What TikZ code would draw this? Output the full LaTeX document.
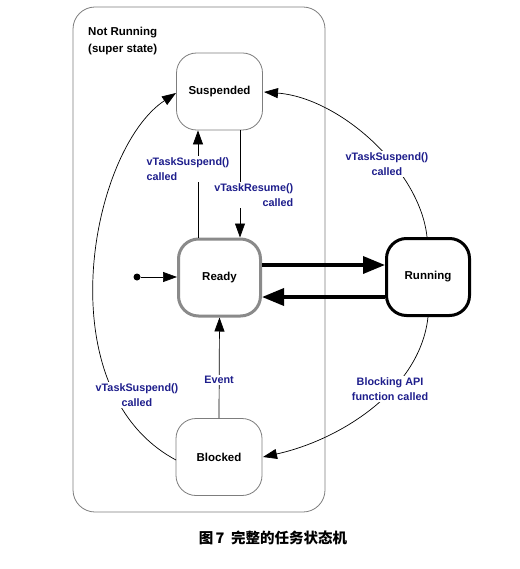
\documentclass[tikz,border=0pt]{standalone}
\usepackage{fontspec}
\setmainfont{Liberation Sans}
\newfontfamily\cjk{Noto Sans CJK SC}
\usetikzlibrary{arrows.meta}
\definecolor{lblue}{RGB}{30,30,140}
\definecolor{boxgray}{RGB}{125,125,125}
\tikzset{
  statebox/.style={draw=boxgray, line width=0.8pt, rounded corners=20pt, fill=white,
    minimum width=86pt, minimum height=77pt, inner sep=0pt,
    font=\fontsize{11.5}{13}\selectfont\bfseries},
  readybox/.style={statebox, draw=boxgray!90, line width=3pt, minimum width=82pt, minimum height=77pt},
  runbox/.style={statebox, draw=black, line width=3pt, minimum width=83pt, minimum height=77pt},
  lbl/.style={fill=white, text=lblue, inner sep=1.5pt, font=\fontsize{10.8}{15.5}\selectfont\bfseries},
  conn/.style={draw=black, line width=0.7pt, -{Triangle[length=14pt, width=10pt]}},
  thickconn/.style={draw=black, line width=3.5pt, -{Triangle[length=22pt, width=17pt]}},
}
\begin{document}
\begin{tikzpicture}[x=1pt, y=-1pt]
\useasboundingbox (0,0) rectangle (519,569);
% super state
\node[draw=boxgray, line width=0.8pt, rounded corners=22pt, minimum width=252pt, minimum height=505pt, inner sep=0pt] (super) at (199,259.5) {};
\node[anchor=north west, align=left, inner sep=0pt, font=\fontsize{11.5}{17}\selectfont\bfseries] (suptxt) at (88,27) {Not Running\\(super state)};
% thick arrows (under boxes)
\coordinate (rr1) at (262,265);
\coordinate (rr2) at (385,265);
\coordinate (rb1) at (385,297);
\coordinate (rb2) at (262,297);
% states
\node[statebox] (susp) at (219.5,91.5) {Suspended};
\node[readybox] (ready) at (219.5,277.5) {Ready};
\node[runbox] (run) at (428,277) {Running};
\node[statebox] (blk) at (219,457) {Blocked};
\draw[thickconn] (ready.east |- rr1) -- (run.west |- rr2);
\draw[thickconn] (run.west |- rb1) -- (ready.east |- rb2);
% entry
\node[circle, fill=black, inner sep=0pt, minimum size=7pt] (dot) at (137,277) {};
\draw[conn] (dot) -- (ready.west |- dot);
% Ready -> Suspended
\coordinate (x1) at (198,0);
\draw[conn] (ready.north -| x1) -- (susp.south -| x1);
\node[lbl, anchor=west, align=left] (l1) at (145,169) {vTaskSuspend()\\called};
% Suspended -> Ready
\coordinate (x2) at (240,0);
\draw[conn] (susp.south -| x2) -- (ready.north -| x2);
\node[lbl, anchor=east, align=right] (l2) at (295,195) {vTaskResume()\\called};
% Running -> Suspended
\coordinate (r1) at (427,237);
\coordinate (s1) at (264,92);
\draw[conn] (r1) .. controls (420,170) and (340,98) .. (s1);
\node[lbl, align=center] (l3) at (387,164) {vTaskSuspend()\\called};
% Running -> Blocked
\coordinate (r2) at (428,317);
\coordinate (b1) at (263,457);
\draw[conn] (r2) .. controls (420,390) and (340,440) .. (b1);
\node[lbl, align=center] (l4) at (390,389) {Blocking API\\function called};
% Blocked -> Suspended
\coordinate (b2) at (176,460);
\coordinate (s2) at (176,93);
\draw[conn] (b2) .. controls (45,390) and (90,150) .. (s2);
\node[lbl, align=center] (l5) at (137,395) {vTaskSuspend()\\called};
% Blocked -> Ready
\draw[conn] (blk.north) -- (ready.south);
\node[lbl] (l6) at (219,380) {Event};
% caption
\node[font=\cjk\fontsize{14.5}{16}\selectfont\bfseries, inner sep=0pt] (cap) at (273,538) {图\,7\ \ 完整的任务状态机};
\end{tikzpicture}
\end{document}
